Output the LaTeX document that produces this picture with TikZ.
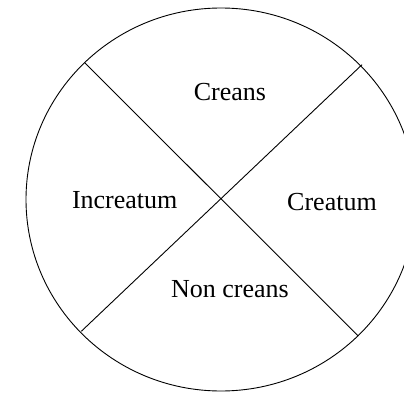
\documentclass[tikz,border=0pt]{standalone}
\usepackage{fontspec}
\setmainfont{Liberation Serif}
\tikzset{part/.style={anchor=base,inner sep=0pt,font=\fontsize{26}{30}\selectfont}}
\begin{document}
\begin{tikzpicture}[x=1pt,y=-1pt,line width=0.9pt]
\useasboundingbox (0,0) rectangle (404,393);
\clip (0,0) rectangle (404,393);
   \coordinate (nw) at (84.7,62.7);
   \coordinate (se) at (358.3,336);
   \coordinate (ne) at (362,64.7);
   \coordinate (sw) at (81.3,331.3);

   \node[part] at (230,101)  (creans) {Creans};
   \node[part] at (124.7,208)  (increatum) {Increatum};
   \node[part] at (332,210.5)  (creatum) {Creatum};
   \node[part] at (230,297.5)  (noncreans) {Non creans};

    \draw (221,199.5) ellipse [x radius=195pt, y radius=191.5pt];
    \draw (nw) -- (se);
    \draw (ne) -- (sw);

    \end{tikzpicture}
\end{document}
